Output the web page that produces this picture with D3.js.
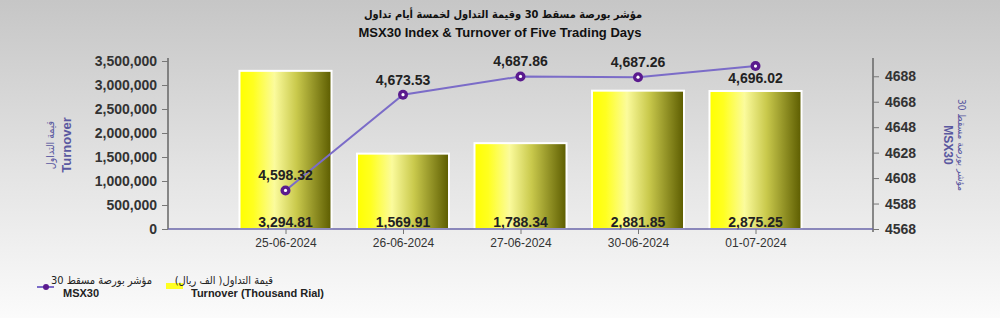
<!DOCTYPE html>
<html><head><meta charset="utf-8">
<script src="https://cdn.jsdelivr.net/npm/d3@7"></script>
<style>html,body{margin:0;padding:0;}svg{display:block;font-family:"Liberation Sans","DejaVu Sans",Arial,sans-serif;} .ar{font-family:"DejaVu Sans Condensed","DejaVu Sans",sans-serif;}</style>
</head><body><svg id="c" width="1000" height="318"></svg>
<script>
const dates = ["25-06-2024","26-06-2024","27-06-2024","30-06-2024","01-07-2024"];
const turnover = [3294.81, 1569.91, 1788.34, 2881.85, 2875.25]; // thousand rial
const msx30 = [4598.32, 4673.53, 4687.86, 4687.26, 4696.02];
const leftTicks = [0,500000,1000000,1500000,2000000,2500000,3000000,3500000];
const rightTicks = [4568,4588,4608,4628,4648,4668,4688];

const svg = d3.select("#c");
const defs = svg.append("defs");
const bg = defs.append("linearGradient").attr("id","bg").attr("x1",0).attr("y1",0).attr("x2",0).attr("y2",1);
bg.append("stop").attr("offset","0").attr("stop-color","#c6c6c6");
bg.append("stop").attr("offset","0.55").attr("stop-color","#e4e4e4");
bg.append("stop").attr("offset","1").attr("stop-color","#fbfbfb");
const bar = defs.append("linearGradient").attr("id","bar").attr("x1",0).attr("y1",0).attr("x2",1).attr("y2",0);
[[0,"#ffff00"],[0.15,"#ffff20"],[0.38,"#fbfb9c"],[0.62,"#c9c94c"],[1,"#5c5c00"]].forEach(s=>bar.append("stop").attr("offset",s[0]).attr("stop-color",s[1]));

svg.append("rect").attr("width",1000).attr("height",318).attr("fill","url(#bg)");

const x0 = 168, x1 = 873, yTop = 61, yBot = 229;
const x = d3.scalePoint().domain(dates).range([x0,x1]).padding(1);
const yL = d3.scaleLinear().domain([0,3500000]).range([yBot,yTop]);
const yR = d3.scaleLinear().domain([4568,4700]).range([yBot,yTop]);
const bw = 92;

// title
svg.append("text").attr("class","ar").attr("x",503).attr("y",18).attr("text-anchor","middle").attr("font-size",11).attr("font-weight","bold").attr("fill","#111").text("مؤشر بورصة مسقط 30 وقيمة التداول لخمسة أيام تداول");
svg.append("text").attr("x",500).attr("y",37).attr("text-anchor","middle").attr("font-size",13).attr("font-weight","bold").attr("fill","#111").text("MSX30 Index & Turnover of Five Trading Days");

// bars
svg.append("g").selectAll("rect").data(turnover).join("rect")
  .attr("x",(d,i)=>x(dates[i])-bw/2).attr("width",bw)
  .attr("y",d=>yL(d*1000)).attr("height",d=>yBot-yL(d*1000))
  .attr("fill","url(#bar)").attr("stroke","#ffffff").attr("stroke-width",2);

// bar labels
svg.append("g").selectAll("text").data(turnover).join("text")
  .attr("x",(d,i)=>x(dates[i])).attr("y",yBot-2)
  .attr("text-anchor","middle").attr("font-size",14).attr("font-weight","bold").attr("fill","#222")
  .text(d=>d3.format(",.2f")(d));

// left axis
const gL = svg.append("g").attr("transform",`translate(${x0},0)`)
  .call(d3.axisLeft(yL).tickValues(leftTicks).tickSize(6).tickPadding(5).tickFormat(d3.format(",")));
gL.select(".domain").attr("stroke","#666").attr("stroke-width",1.5).attr("d",`M0,${yTop-3}V${yBot}`);
gL.selectAll(".tick line").attr("stroke","#777");
gL.selectAll(".tick text").attr("font-size",14).attr("font-weight","bold").attr("fill","#333");
gL.attr("font-family",null);

// right axis
const gR = svg.append("g").attr("transform",`translate(${x1},0)`)
  .call(d3.axisRight(yR).tickValues(rightTicks).tickSize(6).tickPadding(6).tickFormat(d3.format("d")));
gR.select(".domain").attr("stroke","#666").attr("stroke-width",1.5).attr("d",`M0,${yTop-3}V${yBot+3}`);
gR.selectAll(".tick line").attr("stroke","#777");
gR.selectAll(".tick text").attr("font-size",14).attr("font-weight","bold").attr("fill","#333");
gR.attr("font-family",null);

// x axis
const gX = svg.append("g").attr("transform",`translate(0,${yBot})`)
  .call(d3.axisBottom(x).tickSize(5).tickPadding(4).tickSizeOuter(0));
gX.select(".domain").attr("stroke","#6a66aa").attr("stroke-width",1.5).attr("d",`M${x0},0H${x1}`);
gX.selectAll(".tick line").attr("stroke","#777");
gX.selectAll(".tick text").attr("font-size",12).attr("fill","#333");
gX.attr("font-family",null);

// line
const line = d3.line().x((d,i)=>x(dates[i])).y(d=>yR(d));
svg.append("path").datum(msx30).attr("d",line).attr("fill","none").attr("stroke","#7b6cc8").attr("stroke-width",2);
const pts = svg.append("g").selectAll("g").data(msx30).join("g")
  .attr("transform",(d,i)=>`translate(${x(dates[i])},${yR(d)})`);
pts.append("circle").attr("r",5).attr("fill","#5a1a8e");
pts.append("circle").attr("r",1.6).attr("fill","#ffffff");
pts.append("text").attr("text-anchor","middle").attr("y",(d,i)=>i===4?17:-10)
  .attr("font-size",14).attr("font-weight","bold").attr("fill","#222")
  .text(d=>d3.format(",.2f")(d));

// axis titles
const lt = svg.append("g").attr("transform","translate(58,145) rotate(-90)");
lt.append("text").attr("class","ar").attr("y",-4).attr("text-anchor","middle").attr("font-size",10.5).attr("fill","#5a58a0").text("قيمة التداول");
lt.append("text").attr("y",13).attr("text-anchor","middle").attr("font-size",13).attr("font-weight","bold").attr("fill","#5a58a0").text("Turnover");
const rt = svg.append("g").attr("transform","translate(954,145) rotate(90)");
rt.append("text").attr("class","ar").attr("y",-4).attr("text-anchor","middle").attr("font-size",10).attr("fill","#5a58a0").text("مؤشر بورصة مسقط 30");
rt.append("text").attr("y",10).attr("text-anchor","middle").attr("font-size",12).attr("font-weight","bold").attr("fill","#5a58a0").text("MSX30");

// legend
const lg = svg.append("g");
lg.append("line").attr("x1",37).attr("x2",54).attr("y1",287).attr("y2",287).attr("stroke","#7b6cc8").attr("stroke-width",2);
lg.append("circle").attr("cx",46).attr("cy",287).attr("r",3).attr("fill","#5a1a8e");
lg.append("text").attr("class","ar").attr("x",152).attr("y",284).attr("text-anchor","end").attr("font-size",11).attr("fill","#222").text("مؤشر بورصة مسقط 30");
lg.append("text").attr("x",63).attr("y",297).attr("font-size",11).attr("font-weight","bold").attr("fill","#222").text("MSX30");
lg.append("rect").attr("x",166).attr("y",283).attr("width",17).attr("height",6).attr("fill","#ffff22");
lg.append("text").attr("class","ar").attr("x",273).attr("y",284).attr("text-anchor","end").attr("font-size",11).attr("fill","#222").text("قيمة التداول( الف ريال)");
lg.append("text").attr("x",191).attr("y",297).attr("font-size",11).attr("font-weight","bold").attr("fill","#222").text("Turnover (Thousand Rial)");
</script></body></html>
